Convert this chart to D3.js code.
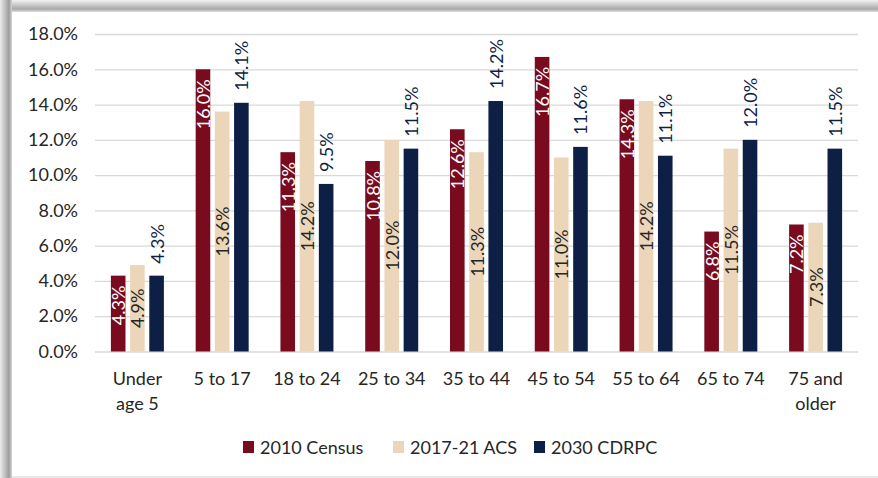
<!DOCTYPE html>
<html><head><meta charset="utf-8">
<script src="https://cdn.jsdelivr.net/npm/d3@7"></script>
<style>html,body{margin:0;padding:0;background:#fff;}svg{display:block;}</style>
</head><body>
<svg id="chart" width="878" height="478"></svg>
<script>
const categories = ["Under|age 5","5 to 17","18 to 24","25 to 34","35 to 44","45 to 54","55 to 64","65 to 74","75 and|older"];
const seriesNames = ["2010 Census","2017-21 ACS","2030 CDRPC"];
const census2010 = [4.3,16.0,11.3,10.8,12.6,16.7,14.3,6.8,7.2];
const acs2017_21 = [4.9,13.6,14.2,12.0,11.3,11.0,14.2,11.5,7.3];
const cdrpc2030 = [4.3,14.1,9.5,11.5,14.2,11.6,11.1,12.0,11.5];
const yTicks = [0,2,4,6,8,10,12,14,16,18];
const colors = ["#7a0a1e","#ecd6ba","#0e1f45"];

const FONT = "Lato, 'Open Sans', sans-serif";
const FS = "18px";
const svg = d3.select("#chart");

// frame shadow
const defs = svg.append("defs");
const gl = defs.append("linearGradient").attr("id","gl").attr("x1","0").attr("x2","1").attr("y1","0").attr("y2","0");
gl.append("stop").attr("offset","0").attr("stop-color","#ececec");
gl.append("stop").attr("offset","0.75").attr("stop-color","#9c9c9c");
gl.append("stop").attr("offset","1").attr("stop-color","#d6d6d6");
const gt = defs.append("linearGradient").attr("id","gt").attr("x1","0").attr("x2","0").attr("y1","0").attr("y2","1");
gt.append("stop").attr("offset","0").attr("stop-color","#f2f2f2");
gt.append("stop").attr("offset","0.75").attr("stop-color","#a8a8a8");
gt.append("stop").attr("offset","1").attr("stop-color","#dedede");
svg.append("rect").attr("x",0).attr("y",0).attr("width",878).attr("height",12).attr("fill","url(#gt)");
svg.append("rect").attr("x",0).attr("y",0).attr("width",12).attr("height",478).attr("fill","url(#gl)");
svg.append("rect").attr("x",12).attr("y",476).attr("width",866).attr("height",2).attr("fill","#e8e8e8");

const x0 = d3.scaleBand().domain(categories).range([95,858]).paddingInner(0).paddingOuter(0);
const bw = x0.bandwidth();
const x1 = d3.scaleBand().domain(seriesNames).range([bw/2-26.5, bw/2+26.5]).paddingInner(0.24);
const y = d3.scaleLinear().domain([0,18]).range([351.5,34]);

// gridlines
const yAxis = d3.axisLeft(y).tickValues(yTicks).tickSize(-(858-95)).tickFormat(d => d.toFixed(1)+"%");
const gy = svg.append("g").attr("transform","translate(95,0)").call(yAxis);
gy.select(".domain").remove();
gy.selectAll(".tick line").attr("stroke","#d9d9d9").attr("stroke-width",1.3);
gy.selectAll(".tick text").attr("x",-17).attr("fill","#262626").style("font-family",FONT).style("font-size",FS);

const data = [census2010, acs2017_21, cdrpc2030];

const groups = svg.append("g").selectAll("g").data(categories).join("g")
  .attr("transform", d => `translate(${x0(d)},0)`);

seriesNames.forEach((s, si) => {
  groups.append("rect")
    .attr("x", x1(s)).attr("width", x1.bandwidth())
    .attr("y", (d,i) => y(data[si][i]))
    .attr("height", (d,i) => y(0) - y(data[si][i]))
    .attr("fill", colors[si]);
});

// labels
groups.each(function(d, i){
  const g = d3.select(this);
  const v0 = census2010[i];
  g.append("text")
    .attr("transform", `translate(${x1(seriesNames[0]) + x1.bandwidth()/2},${y(v0)+10}) rotate(-90)`)
    .attr("text-anchor","end").attr("dominant-baseline","central")
    .attr("fill","#ffffff").style("font-family",FONT).style("font-size",FS)
    .text(v0.toFixed(1)+"%");
  const v1 = acs2017_21[i];
  g.append("text")
    .attr("transform", `translate(${x1(seriesNames[1]) + x1.bandwidth()/2},${(y(v1)+y(0))/2}) rotate(-90)`)
    .attr("text-anchor","middle").attr("dominant-baseline","central")
    .attr("fill","#262626").style("font-family",FONT).style("font-size",FS)
    .text(v1.toFixed(1)+"%");
  const v2 = cdrpc2030[i];
  g.append("text")
    .attr("transform", `translate(${x1(seriesNames[2]) + x1.bandwidth()/2},${y(v2)-12}) rotate(-90)`)
    .attr("text-anchor","start").attr("dominant-baseline","central")
    .attr("fill","#0e1f45").style("font-family",FONT).style("font-size",FS)
    .text(v2.toFixed(1)+"%");
});

// category labels
const cat = svg.append("g").selectAll("text").data(categories).join("text")
  .attr("x", d => x0(d) + bw/2).attr("y", 385)
  .attr("text-anchor","middle").attr("fill","#262626")
  .style("font-family",FONT).style("font-size",FS);
cat.each(function(d){
  const parts = d.split("|");
  const t = d3.select(this);
  parts.forEach((p,k) => t.append("tspan").attr("x", x0(d)+bw/2).attr("dy", k===0?0:25).text(p));
});

// legend
const legendX = [243, 393, 534];
const lg = svg.append("g").selectAll("g").data(seriesNames).join("g")
  .attr("transform", (d,i) => `translate(${legendX[i]},441)`);
lg.append("rect").attr("width",11).attr("height",12).attr("fill",(d,i)=>colors[i]);
lg.append("text").attr("x",17).attr("y",6).attr("dominant-baseline","central")
  .attr("fill","#262626").style("font-family",FONT).style("font-size",FS).text(d=>d);
</script>
</body></html>
